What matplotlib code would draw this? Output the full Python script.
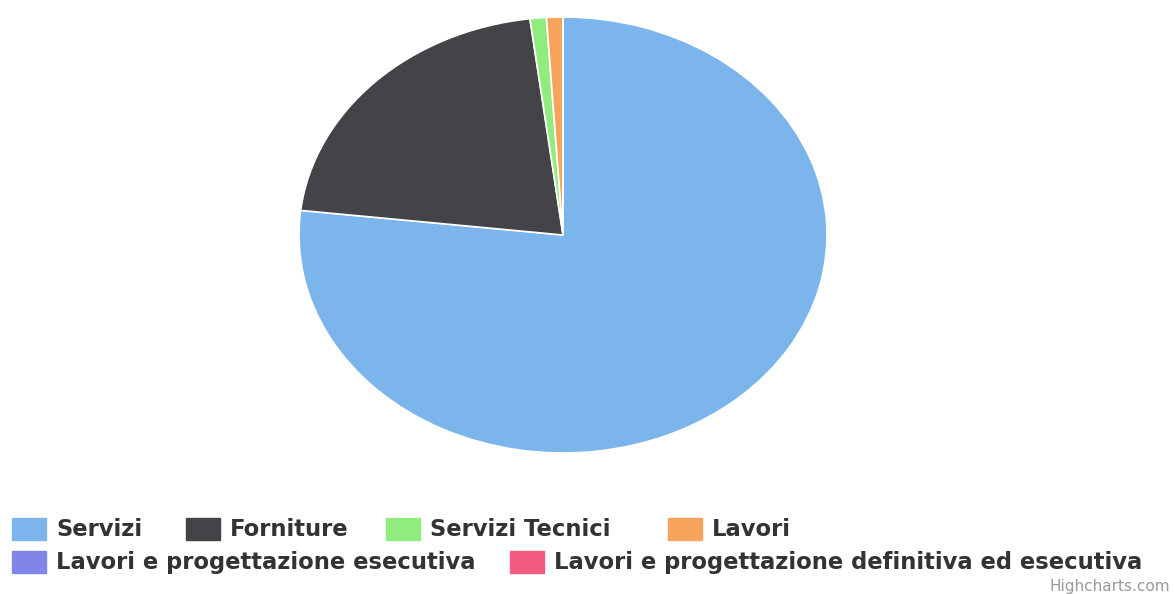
import matplotlib.pyplot as plt
from matplotlib.patches import Rectangle

# dati della torta (quote percentuali)
categorie = ["Servizi", "Forniture", "Servizi Tecnici", "Lavori",
             "Lavori e progettazione esecutiva",
             "Lavori e progettazione definitiva ed esecutiva"]
valori = [76.8, 21.2, 1.0, 1.0, 0.0, 0.0]
colori = ["#7cb5ec", "#434348", "#90ed7d", "#f7a35c", "#8085e9", "#f15c80"]

W, H = 1174, 594
fig = plt.figure(figsize=(W / 100, H / 100), dpi=100)

# la torta nel riferimento e' stirata in orizzontale: assi senza aspect uguale
cx, cy, rx, ry = 563, 235, 264, 218
ax = fig.add_axes([(cx - rx) / W, (H - cy - ry) / H, 2 * rx / W, 2 * ry / H])
ax.pie(valori, colors=colori, startangle=90, counterclock=False,
       wedgeprops=dict(edgecolor="white", linewidth=1.2))
ax.set_xlim(-1, 1)
ax.set_ylim(-1, 1)
ax.set_aspect("auto")
ax.axis("off")

# legenda a scorrimento come in Highcharts (posizioni in pixel)
voci = [(12, 529), (186, 529), (386, 529), (668, 529), (12, 562), (510, 562)]
for (x, y), nome, col in zip(voci, categorie, colori):
    fig.patches.append(Rectangle((x / W, (H - y - 11) / H), 34 / W, 22 / H,
                                 transform=fig.transFigure, color=col))
    fig.text((x + 44) / W, (H - y) / H, nome, fontsize=16.3, fontweight="bold",
             color="#333333", va="center", ha="left")

fig.text(1170 / W, (H - 587) / H, "Highcharts.com", fontsize=11,
         color="#999999", ha="right", va="center")

fig.savefig("out.png", dpi=100, facecolor="white")
